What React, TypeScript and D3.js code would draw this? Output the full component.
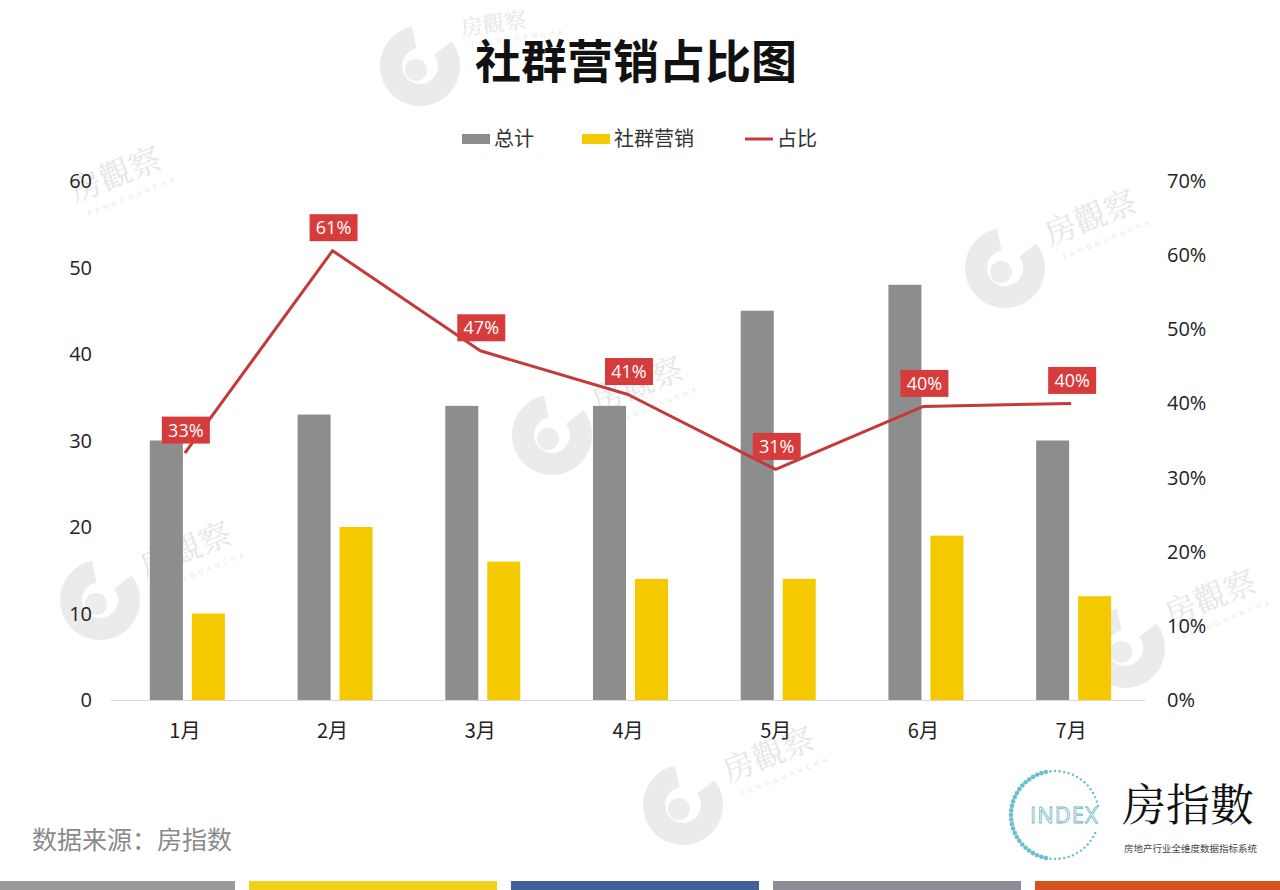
import React from "react";
import * as d3 from "d3";

const months = ["1月", "2月", "3月", "4月", "5月", "6月", "7月"];
const totals = [30, 33, 34, 34, 45, 48, 30];
const social = [10, 20, 16, 14, 14, 19, 12];
const ratios = [0.333, 0.606, 0.471, 0.412, 0.311, 0.396, 0.4];
const ratioLabels = ["33%", "61%", "47%", "41%", "31%", "40%", "40%"];
const leftTicks = [0, 10, 20, 30, 40, 50, 60];
const rightTicks = [0, 0.1, 0.2, 0.3, 0.4, 0.5, 0.6, 0.7];
const seriesKeys = ["总计", "社群营销"];
const seriesColors = ["#8e8d8e", "#f5c900"];
const lineColor = "#c43a3b";
const labelColor = "#d73c3c";
const stripColors = ["#9a9a9a", "#f4cf1e", "#42609c", "#8d8c99", "#d4531f"];

const FONT = "'Open Sans', 'Noto Sans CJK SC', sans-serif";
const CJK = "'Noto Sans CJK SC', sans-serif";

const watermarks = [
  { x: 420, y: 66, logo: true, tx: 462, ty: 36, rot: -8, size: 22 },
  { x: 30, y: 225, logo: false, tx: 75, ty: 203, rot: -22, size: 32 },
  { x: 1005, y: 268, logo: true, tx: 1050, ty: 246, rot: -22, size: 32 },
  { x: 552, y: 435, logo: true, tx: 597, ty: 413, rot: -22, size: 32 },
  { x: 100, y: 600, logo: true, tx: 145, ty: 578, rot: -22, size: 32 },
  { x: 1125, y: 648, logo: true, tx: 1170, ty: 626, rot: -22, size: 32 },
  { x: 683, y: 805, logo: true, tx: 728, ty: 783, rot: -22, size: 32 },
];

type WM = { x: number; y: number; logo: boolean; tx: number; ty: number; rot: number; size: number };

function Watermark({ x, y, logo, tx, ty, rot, size }: WM) {
  return (
    <g opacity={0.5}>
      {logo && (
        <g transform={`translate(${x},${y})`}>
          <path
            d={d3.arc()({ innerRadius: 18, outerRadius: 40, startAngle: 0.9, endAngle: 2 * Math.PI - 0.2 }) || ""}
            fill="#d9d9d9"
          />
          <circle cx={-4} cy={4} r={11} fill="#dcdcdc" />
        </g>
      )}
      <g transform={`rotate(${rot} ${tx} ${ty})`}>
        <text
          x={tx}
          y={ty}
          fontFamily="'Noto Serif CJK SC', 'Noto Sans CJK TC', serif"
          fontSize={size}
          fill="#cfcfcf"
        >
          房觀察
        </text>
        <text x={tx + 8} y={ty + size * 0.55} fontFamily={FONT} fontSize={7} letterSpacing={4} fill="#cfcfcf">
          FANGGUANCHA
        </text>
      </g>
    </g>
  );
}

export default function App() {
  const W = 1280;
  const H = 890;
  const x = d3.scaleBand<string>().domain(months).range([111, 1145]).padding(0);
  const bw = x.bandwidth();
  const inner = d3
    .scaleBand<string>()
    .domain(seriesKeys)
    .range([bw / 2 - 35, bw / 2 + 40])
    .paddingInner(0.214);
  const yL = d3.scaleLinear().domain([0, 60]).range([700, 181]);
  const yR = d3.scaleLinear().domain([0, 0.7]).range([700, 181]);
  const line = d3
    .line<number>()
    .x((_, i) => (x(months[i]) as number) + bw / 2)
    .y((d) => yR(d));

  const legendItems = [
    { label: "总计", type: "rect", color: seriesColors[0], x: 462 },
    { label: "社群营销", type: "rect", color: seriesColors[1], x: 582 },
    { label: "占比", type: "line", color: lineColor, x: 745 },
  ];

  const strips = d3.scaleBand<number>().domain(d3.range(5)).range([-13, 1283]).paddingInner(0.0534);

  return (
    <svg width={W} height={H} style={{ position: "absolute", left: 0, top: 0, background: "#fff" }}>
      <rect width={W} height={H} fill="#ffffff" />
      {watermarks.map((w, i) => (
        <Watermark key={i} {...w} />
      ))}

      <text x={636} y={78} textAnchor="middle" fontFamily={CJK} fontWeight={700} fontSize={46} fill="#111">
        社群营销占比图
      </text>

      {/* legend */}
      {legendItems.map((it) => (
        <g key={it.label}>
          {it.type === "rect" ? (
            <rect x={it.x} y={134} width={28} height={10} fill={it.color} />
          ) : (
            <line x1={it.x} x2={it.x + 28} y1={139} y2={139} stroke={it.color} strokeWidth={3} />
          )}
          <text x={it.x + 32} y={146} fontFamily={CJK} fontSize={20} fill="#333">
            {it.label}
          </text>
        </g>
      ))}

      {/* baseline */}
      <line x1={111} x2={1145} y1={700.5} y2={700.5} stroke="#d9d9d9" strokeWidth={1} />

      {/* left axis */}
      {leftTicks.map((t) => (
        <text key={t} x={92} y={yL(t) + 7} textAnchor="end" fontFamily={FONT} fontSize={20} fill="#222">
          {t}
        </text>
      ))}
      {/* right axis */}
      {rightTicks.map((t) => (
        <text key={t} x={1167} y={yR(t) + 7} textAnchor="start" fontFamily={FONT} fontSize={20} fill="#222">
          {d3.format(".0%")(t)}
        </text>
      ))}

      {/* bars */}
      {months.map((m, i) => {
        const x0 = x(m) as number;
        const vals = [totals[i], social[i]];
        return (
          <g key={m}>
            {vals.map((v, j) => (
              <rect
                key={j}
                x={x0 + (inner(seriesKeys[j]) as number)}
                y={yL(v)}
                width={inner.bandwidth()}
                height={yL(0) - yL(v)}
                fill={seriesColors[j]}
              />
            ))}
            <text x={x0 + bw / 2} y={738} textAnchor="middle" fontFamily={CJK} fontSize={20} fill="#222">
              {m}
            </text>
          </g>
        );
      })}

      {/* line */}
      <path d={line(ratios) || ""} fill="none" stroke={lineColor} strokeWidth={3} strokeLinejoin="round" />

      {/* data labels */}
      {ratios.map((r, i) => {
        const cx = (x(months[i]) as number) + bw / 2 + 1;
        const cy = yR(r) - 23;
        return (
          <g key={i}>
            <rect x={cx - 24} y={cy - 13.5} width={48} height={27} fill={labelColor} />
            <text x={cx} y={cy + 6.5} textAnchor="middle" fontFamily={FONT} fontSize={18} fill="#fff">
              {ratioLabels[i]}
            </text>
          </g>
        );
      })}

      {/* source */}
      <text x={32} y={849} fontFamily={CJK} fontSize={25} fill="#8a8a8a">
        数据来源：房指数
      </text>

      {/* logo */}
      <g>
        {d3.range(60).map((k) => {
          const a = (k / 60) * 2 * Math.PI;
          const big = Math.cos(a - Math.PI) > 0.2;
          return (
            <circle
              key={k}
              cx={1055 + 44 * Math.cos(a)}
              cy={815 + 44 * Math.sin(a)}
              r={big ? 2.3 : 1.2}
              fill="#4fb4c8"
              opacity={Math.cos(a - 0.2) > 0.6 && Math.sin(a) > -0.2 && Math.sin(a) < 0.4 ? 0 : 0.85}
            />
          );
        })}
        <text x={1030} y={823} fontFamily={FONT} fontSize={22} fill="none" stroke="#6fb6c6" strokeWidth={0.8} letterSpacing={1}>
          INDEX
        </text>
        <text x={1122} y={821} fontFamily="'Noto Serif CJK SC', 'Noto Sans CJK SC', serif" fontSize={44} fill="#111">
          房指數
        </text>
        <text x={1124} y={852} fontFamily={CJK} fontSize={9.5} fill="#444">
          房地产行业全维度数据指标系统
        </text>
      </g>

      {/* bottom strips */}
      {stripColors.map((c, i) => (
        <rect key={i} x={strips(i) as number} y={881} width={strips.bandwidth()} height={9} fill={c} />
      ))}
    </svg>
  );
}
